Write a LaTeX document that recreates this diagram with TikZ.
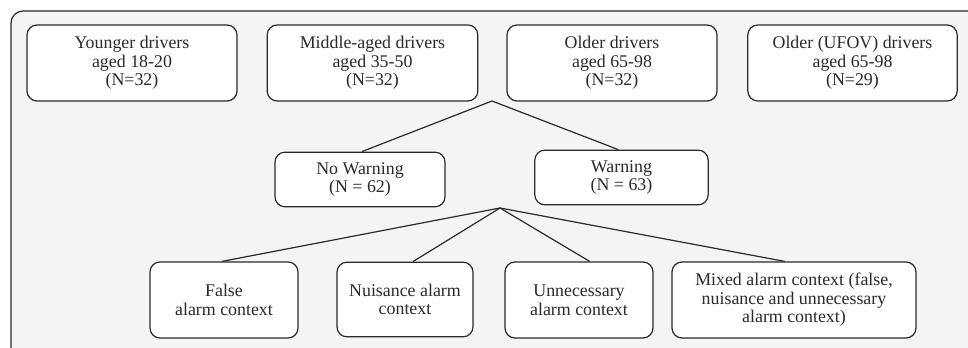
\documentclass[tikz,border=0pt]{standalone}
\usepackage{fontspec}
\setmainfont{Liberation Serif}
\usetikzlibrary{calc}
\definecolor{panel}{HTML}{F4F4F4}
\definecolor{ink}{HTML}{2A2A2A}
\begin{document}
\begin{tikzpicture}[x=0.75pt,y=-0.75pt,
  box/.style={draw=ink,fill=white,line width=0.9pt,rounded corners=7.5pt,
    align=center,inner sep=0pt,text=ink,
    font=\fontsize{13.4pt}{13.9pt}\selectfont},
  link/.style={draw=ink,line width=0.9pt}]
\useasboundingbox (0,0) rectangle (968,348);
\begin{scope}
\clip (0,0) rectangle (968,348);
\fill[white] (0,0) rectangle (968,348);
\draw[draw=ink,fill=panel,line width=0.9pt,rounded corners=9pt] (11,11) rectangle (1000,380);
\end{scope}
\node[box,minimum width=157.5pt,minimum height=57pt] (y1) at (132,63) {Younger drivers\\aged 18-20\\(N=32)};
\node[box,minimum width=158pt,minimum height=57pt] (y2) at (372.5,63) {Middle-aged drivers\\aged 35-50\\(N=32)};
\node[box,minimum width=157.5pt,minimum height=57pt] (y3) at (612,63) {Older drivers\\aged 65-98\\(N=32)};
\node[box,minimum width=157pt,minimum height=57pt] (y4) at (852.5,63) {Older (UFOV) drivers\\aged 65-98\\(N=29)};
\node[box,minimum width=127.5pt,minimum height=41pt] (nw) at (360,179.5) {No Warning\\(N = 62)};
\node[box,minimum width=130pt,minimum height=41pt] (w) at (621.5,177.5) {Warning\\(N = 63)};
\node[box,minimum width=111pt,minimum height=57pt] (f) at (224,300) {False\\alarm context};
\node[box,minimum width=102pt,minimum height=56pt] (n) at (405,299.5) {Nuisance alarm\\context};
\node[box,minimum width=111pt,minimum height=57pt] (u) at (579,300) {Unnecessary\\alarm context};
\node[box,minimum width=183pt,minimum height=57pt] (m) at (794,300) {Mixed alarm context (false,\\nuisance and unnecessary\\alarm context)};
\coordinate (j1) at (492,101);
\coordinate (j2) at (500,208);
\draw[link] ([xshift=1.5pt]nw.north) -- (j1) -- ([xshift=-2.5pt]w.north);
\draw[link] ([xshift=-1.5pt]f.north) -- (j2);
\draw[link] ([xshift=6pt]n.north) -- (j2);
\draw[link] ([xshift=8pt]u.north) -- (j2);
\draw[link] ([xshift=-7pt]m.north) -- (j2);
\end{tikzpicture}
\end{document}
